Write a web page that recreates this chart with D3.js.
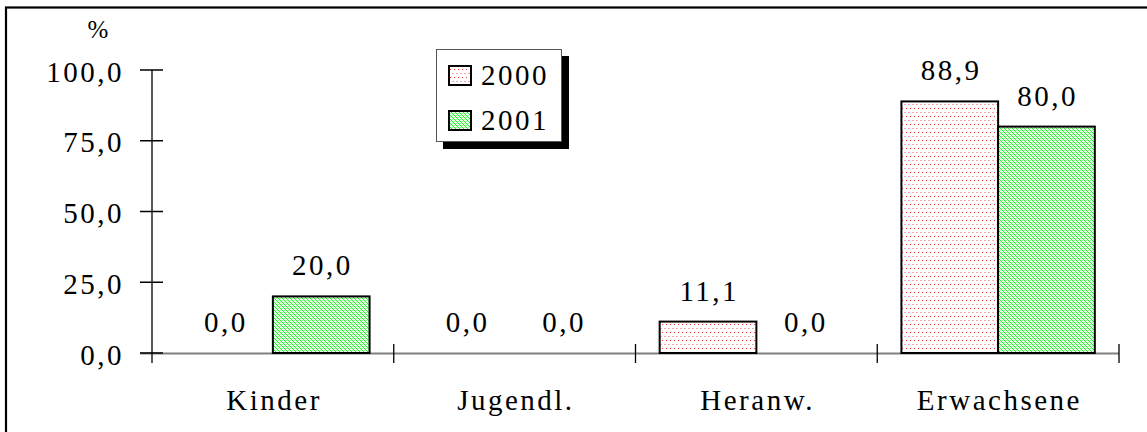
<!DOCTYPE html>
<html>
<head>
<meta charset="utf-8">
<script src="https://cdn.jsdelivr.net/npm/d3@7"></script>
<style>
  html, body { margin: 0; padding: 0; background: #fff; }
  svg { display: block; }
  svg text { font-family: "Liberation Serif", "Times New Roman", Times, serif !important; fill: #000; }
</style>
</head>
<body>
<svg id="chart" width="1147" height="432"></svg>
<script>
const categories = ["Kinder", "Jugendl.", "Heranw.", "Erwachsene"];
const series = ["2000", "2001"];
const values2000 = [0.0, 0.0, 11.1, 88.9];
const values2001 = [20.0, 0.0, 0.0, 80.0];
const yTicks = [0, 25, 50, 75, 100];
const yUnit = "%";

const fmt = v => v.toFixed(1).replace(".", ",");
const FS = 29, LS = 2.5;

const svg = d3.select("#chart");
const defs = svg.append("defs");

// pattern 2000: sparse red/pink dots on white
const p0 = defs.append("pattern").attr("id", "pat2000").attr("patternUnits", "userSpaceOnUse")
  .attr("width", 8).attr("height", 8);
p0.append("rect").attr("width", 8).attr("height", 8).attr("fill", "#fff");
p0.append("rect").attr("x", 0).attr("y", 0).attr("width", 2).attr("height", 1).attr("fill", "#f4a8a8");
p0.append("rect").attr("x", 4).attr("y", 0).attr("width", 2).attr("height", 1).attr("fill", "#f4a8a8");
p0.append("rect").attr("x", 2).attr("y", 4).attr("width", 1).attr("height", 1).attr("fill", "#ff3030");
p0.append("rect").attr("x", 6).attr("y", 4).attr("width", 1).attr("height", 1).attr("fill", "#ff3030");

// pattern 2001: green diagonal dots on pale green
const p1 = defs.append("pattern").attr("id", "pat2001").attr("patternUnits", "userSpaceOnUse")
  .attr("width", 4).attr("height", 4);
p1.append("rect").attr("width", 4).attr("height", 4).attr("fill", "#e8ffe8");
[[0,0],[1,1],[2,2],[3,3]].forEach(([x,y]) =>
  p1.append("rect").attr("x", x).attr("y", y).attr("width", 1).attr("height", 1).attr("fill", "#22f022"));
[[2,0],[0,2]].forEach(([x,y]) =>
  p1.append("rect").attr("x", x).attr("y", y).attr("width", 1).attr("height", 1).attr("fill", "#a0ffa0"));

const fills = { "2000": "url(#pat2000)", "2001": "url(#pat2001)" };

// outer frame
svg.append("rect").attr("x", 6).attr("y", 7.5).attr("width", 1160).attr("height", 460)
  .attr("fill", "none").attr("stroke", "#000").attr("stroke-width", 2.2);

const x0 = d3.scaleBand().domain(categories).range([152, 1119]).padding(0);
const bw = x0.bandwidth();
const x1 = d3.scaleBand().domain(series).range([bw * 0.1, bw * 0.9]).padding(0);
const y = d3.scaleLinear().domain([0, 100]).range([353, 70]);

const data = categories.map((c, i) => ({ c, vals: [
  { s: "2000", v: values2000[i] },
  { s: "2001", v: values2001[i] }
]}));

// x axis baseline (gray)
svg.append("line").attr("x1", 140).attr("x2", 1119).attr("y1", y(0) + 0.5).attr("y2", y(0) + 0.5)
  .attr("stroke", "#808080").attr("stroke-width", 2);

// bars
const g = svg.append("g");
data.forEach(d => {
  d.vals.forEach(b => {
    if (b.v > 0) {
      g.append("rect")
        .attr("x", x0(d.c) + x1(b.s))
        .attr("y", y(b.v))
        .attr("width", x1.bandwidth())
        .attr("height", y(0) - y(b.v))
        .attr("fill", fills[b.s])
        .attr("stroke", "#000").attr("stroke-width", 2);
    }
    g.append("text")
      .attr("x", x0(d.c) + x1(b.s) + x1.bandwidth() / 2 + LS / 2)
      .attr("y", y(b.v) - 21)
      .attr("text-anchor", "middle")
      .attr("font-size", FS).attr("letter-spacing", LS)
      .text(fmt(b.v));
  });
});

// y axis
const yAxis = d3.axisLeft(y).tickValues(yTicks).tickSizeInner(0).tickSizeOuter(0).tickFormat(fmt);
const ya = svg.append("g").attr("transform", "translate(152,0)").call(yAxis);
ya.select(".domain").remove();
ya.selectAll(".tick text").attr("font-size", FS).attr("letter-spacing", LS)
  .attr("fill", "#000").attr("x", -28).attr("dy", "0.38em");
ya.selectAll(".tick line").remove();
yTicks.forEach(t => {
  svg.append("line").attr("x1", 140).attr("x2", 163).attr("y1", y(t)).attr("y2", y(t))
    .attr("stroke", "#000").attr("stroke-width", 1.5);
});
svg.append("line").attr("x1", 152).attr("x2", 152).attr("y1", y(100)).attr("y2", y(0) + 10)
  .attr("stroke", "#000").attr("stroke-width", 1.3);

// category ticks
d3.range(1, categories.length + 1).forEach(i => {
  const xx = 152 + i * bw;
  svg.append("line").attr("x1", xx).attr("x2", xx).attr("y1", y(0) - 9).attr("y2", y(0) + 10)
    .attr("stroke", "#000").attr("stroke-width", 1.3);
});

// category labels
categories.forEach(c => {
  svg.append("text").attr("x", x0(c) + bw / 2 + LS / 2).attr("y", 410)
    .attr("text-anchor", "middle").attr("font-size", FS).attr("letter-spacing", LS)
    .text(c);
});

// unit label
svg.append("text").attr("x", 98).attr("y", 38).attr("text-anchor", "middle")
  .attr("font-size", 25).text(yUnit);

// legend
const lg = svg.append("g").attr("transform", "translate(436,49)");
lg.append("rect").attr("x", 7).attr("y", 7).attr("width", 126).attr("height", 93).attr("fill", "#000");
lg.append("rect").attr("x", 0.5).attr("y", 0.5).attr("width", 125).attr("height", 92)
  .attr("fill", "#fff").attr("stroke", "#555").attr("stroke-width", 1);
series.forEach((s, i) => {
  const yy = 17 + i * 45;
  lg.append("rect").attr("x", 13).attr("y", yy).attr("width", 22).attr("height", 19)
    .attr("fill", fills[s]).attr("stroke", "#000").attr("stroke-width", 2);
  lg.append("text").attr("x", 45).attr("y", yy + 19).attr("font-size", FS).attr("letter-spacing", LS)
    .text(s);
});
</script>
</body>
</html>
